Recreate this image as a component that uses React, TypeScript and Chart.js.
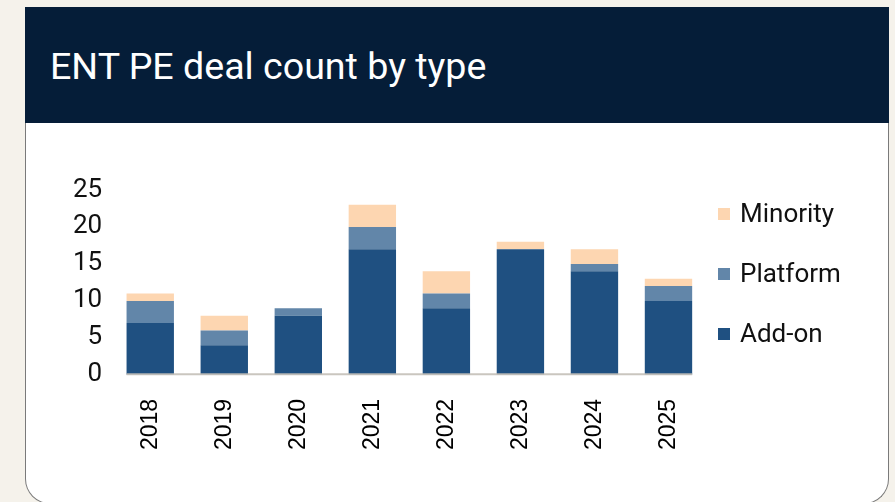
import React, { useEffect, useRef } from "react";
import { Chart, registerables } from "chart.js";

Chart.register(...registerables);

const TITLE = "ENT PE deal count by type";
const YEARS = ["2018", "2019", "2020", "2021", "2022", "2023", "2024", "2025"];
const ADD_ON = [7, 4, 8, 17, 9, 17, 14, 10];
const PLATFORM = [3, 2, 1, 3, 2, 0, 1, 2];
const MINORITY = [1, 2, 0, 3, 3, 1, 2, 1];
const SERIES_NAMES = ["Add-on", "Platform", "Minority"];
const SERIES_COLORS = ["#1F5081", "#6286A9", "#FDD6B1"];
const Y_MIN = 0;
const Y_MAX = 25;
const Y_STEP = 5;

const baselinePlugin = {
  id: "baseline",
  afterDatasetsDraw(chart: any) {
    const meta = chart.getDatasetMeta(0);
    const bars = meta.data;
    if (!bars || !bars.length) return;
    const first = bars[0];
    const last = bars[bars.length - 1];
    const x1 = first.x - first.width / 2;
    const x2 = last.x + last.width / 2;
    const y = chart.scales.y.getPixelForValue(0) - 0.5;
    const ctx = chart.ctx;
    ctx.save();
    ctx.strokeStyle = "rgba(196,192,184,0.9)";
    ctx.lineWidth = 2;
    ctx.beginPath();
    ctx.moveTo(x1, y);
    ctx.lineTo(x2, y);
    ctx.stroke();
    ctx.restore();
  },
};

const sideLegendPlugin = {
  id: "sideLegend",
  afterDraw(chart: any) {
    const { ctx, chartArea } = chart;
    const datasets = chart.data.datasets.slice().reverse();
    ctx.save();
    ctx.font = "26px Roboto";
    ctx.textBaseline = "alphabetic";
    ctx.textAlign = "left";
    datasets.forEach((ds: any, i: number) => {
      const capCenter = chartArea.top + 22.5 + i * 59.8;
      const x0 = chartArea.right + 12.5;
      ctx.fillStyle = ds.backgroundColor;
      ctx.fillRect(Math.round(x0), Math.round(capCenter + 1.6 - 6), 12, 12);
      ctx.fillStyle = "#111111";
      ctx.fillText(ds.label, x0 + 22, capCenter + 9.5);
    });
    ctx.restore();
  },
};

export default function App() {
  const canvasRef = useRef<HTMLCanvasElement | null>(null);

  useEffect(() => {
    if (!canvasRef.current) return;
    const seriesData = [ADD_ON, PLATFORM, MINORITY];
    const chart = new Chart(canvasRef.current, {
      type: "bar",
      data: {
        labels: YEARS,
        datasets: SERIES_NAMES.map((name, i) => ({
          label: name,
          data: seriesData[i],
          backgroundColor: SERIES_COLORS[i],
          borderWidth: 0,
          categoryPercentage: 1,
          barPercentage: 0.64,
        })),
      },
      options: {
        responsive: false,
        animation: false,
        devicePixelRatio: 1,
        layout: { padding: { left: 36, right: 182.5, top: 66, bottom: 26 } },
        plugins: {
          title: { display: false },
          tooltip: { enabled: false },
          legend: { display: false },
        },
        scales: {
          x: {
            stacked: true,
            grid: { display: false, drawTicks: false },
            border: { display: false },
            ticks: {
              minRotation: 90,
              maxRotation: 90,
              padding: 24,
              color: "#000000",
              font: { family: "Liberation Sans", size: 23 },
            },
          },
          y: {
            stacked: true,
            min: Y_MIN,
            max: Y_MAX,
            grid: { display: false, drawTicks: false },
            border: { display: false },
            ticks: {
              stepSize: Y_STEP,
              autoSkip: false,
              padding: 11,
              color: "#111111",
              font: { family: "Roboto", size: 26 },
            },
          },
        },
      },
      plugins: [baselinePlugin, sideLegendPlugin],
    });
    return () => chart.destroy();
  }, []);

  return (
    <div
      style={{
        position: "absolute",
        left: 0,
        top: 0,
        width: 895,
        height: 502,
        background: "#F5F2EB",
        overflow: "hidden",
      }}
    >
      <div
        style={{
          position: "absolute",
          left: 25,
          top: 123,
          width: 862,
          height: 380,
          background: "#FFFFFF",
          border: "1px solid #7a7a7a",
          borderTop: "none",
          borderRadius: "0 0 25px 25px",
        }}
      />
      <div
        style={{
          position: "absolute",
          left: 25,
          top: 7,
          width: 864,
          height: 116,
          background: "#051D38",
        }}
      >
        <div
          style={{
            position: "absolute",
            left: 25,
            top: 40,
            color: "#FFFFFF",
            fontFamily: "Roboto",
            fontSize: 37.6,
            lineHeight: "38px",
            whiteSpace: "nowrap",
          }}
        >
          {TITLE}
        </div>
      </div>
      <canvas
        ref={canvasRef}
        width={862}
        height={376}
        style={{ position: "absolute", left: 26, top: 124, width: 862, height: 376 }}
      />
    </div>
  );
}
